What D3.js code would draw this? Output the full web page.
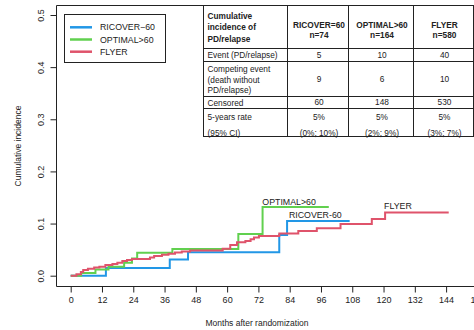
<!DOCTYPE html>
<html>
<head>
<meta charset="utf-8">
<script src="https://cdn.jsdelivr.net/npm/d3@7"></script>
<style>
  body { margin: 0; background: #fff; }
  svg { display: block; font-family: "Liberation Sans", Arial, sans-serif; }
</style>
</head>
<body>
<svg id="chart" width="474" height="330"></svg>
<script>
// step curves: month of each change, and the value after it
var ricoverMonths = [0, 13.5, 38, 45, 80, 83, 107];
var ricoverValues = [0, 0.015, 0.031, 0.045, 0.078, 0.105, 0.105];

var optimalMonths = [0, 4, 9.5, 14.5, 20.5, 23.5, 25.5, 39, 64.3, 73.6, 99];
var optimalValues = [0, 0.005, 0.012, 0.017, 0.025, 0.033, 0.044, 0.051, 0.080, 0.132, 0.132];

var flyerMonths = [0, 2.2, 3.9, 4.8, 6.6, 9, 11, 13.3, 16, 17.9, 19.8, 21.6, 23.5, 30.4, 32, 35, 37.5, 40, 42.6, 45.8, 58.3, 61.2, 63.8, 67, 69, 70.3, 72.2, 80, 87.3, 94.4, 103.5, 115.5, 120.6, 145];
var flyerValues = [0, 0.003, 0.007, 0.011, 0.0135, 0.0155, 0.017, 0.0205, 0.0225, 0.025, 0.028, 0.030, 0.032, 0.035, 0.038, 0.040, 0.042, 0.0445, 0.0465, 0.0485, 0.0515, 0.059, 0.064, 0.0665, 0.070, 0.0735, 0.076, 0.081, 0.0857, 0.091, 0.099, 0.1087, 0.121, 0.121];

var seriesNames = ["RICOVER\u221260", "OPTIMAL>60", "FLYER"];
var seriesColors = ["#2297E6", "#61D04F", "#DF536B"];

var xTicks = d3.range(0, 157, 12);
var yTicks = [0, 0.1, 0.2, 0.3, 0.4, 0.5];

// table contents
var tableHeader = [["Cumulative", "incidence of", "PD/relapse"], ["RICOVER=60", "n=74"], ["OPTIMAL>60", "n=164"], ["FLYER", "n=580"]];
var tableRowLabels = [["Event (PD/relapse)"], ["Competing event", "(death without", "PD/relapse)"], ["Censored"], ["5-years rate", "(95% CI)"]];
var tableCells = [
  [["5"], ["10"], ["40"]],
  [["9"], ["6"], ["10"]],
  [["60"], ["148"], ["530"]],
  [["5%", "(0%; 10%)"], ["5%", "(2%; 9%)"], ["5%", "(3%; 7%)"]]
];

var svg = d3.select("#chart");
var ink = "#222";
var font = "Liberation Sans, Arial, sans-serif";

var x = d3.scaleLinear().domain([0, 156]).range([70.7, 70.7 + 156 * 2.607]);
var y = d3.scaleLinear().domain([0, 0.5]).range([275.7, 15]);

var boxLeft = 56, boxTop = 5, boxBottom = 286;

// plot box (runs past the right edge of the picture)
svg.append("path")
  .attr("d", "M480," + (boxTop + 0.5) + "H" + (boxLeft + 0.5) + "V" + (boxBottom + 0.5) + "H480")
  .attr("fill", "none").attr("stroke", ink).attr("stroke-width", 1);

// x axis
var xAxis = svg.append("g")
  .attr("transform", "translate(0," + (boxBottom + 0.5) + ")")
  .call(d3.axisBottom(x).tickValues(xTicks).tickSize(6).tickPadding(4).tickFormat(d3.format("d")));
xAxis.select(".domain").remove();
xAxis.selectAll("line").attr("stroke", ink);
xAxis.selectAll("text").attr("fill", ink).style("font-size", "9px").style("font-family", font);

// y axis, labels turned like R's default
var yAxis = svg.append("g")
  .attr("transform", "translate(" + (boxLeft + 0.5) + ",0)")
  .call(d3.axisLeft(y).tickValues(yTicks).tickSize(6).tickFormat(d3.format(".1f")));
yAxis.select(".domain").remove();
yAxis.selectAll("line").attr("stroke", ink);
yAxis.selectAll("text")
  .attr("fill", ink)
  .attr("x", 0).attr("dy", null)
  .attr("text-anchor", "middle")
  .attr("transform", "translate(-15,0) rotate(-90)")
  .attr("dominant-baseline", "middle")
  .style("font-size", "9px").style("font-family", font);

// axis titles
svg.append("text")
  .attr("x", 257).attr("y", 326)
  .attr("text-anchor", "middle").attr("fill", ink)
  .style("font-size", "8.5px")
  .text("Months after randomization");
svg.append("text")
  .attr("transform", "translate(21,146) rotate(-90)")
  .attr("text-anchor", "middle").attr("fill", ink)
  .style("font-size", "8.5px")
  .text("Cumulative incidence");

// curves
var line = d3.line()
  .x(function(d) { return x(d[0]); })
  .y(function(d) { return y(d[1]); })
  .curve(d3.curveStepAfter);

var curves = [
  d3.zip(ricoverMonths, ricoverValues),
  d3.zip(optimalMonths, optimalValues),
  d3.zip(flyerMonths, flyerValues)
];
curves.forEach(function(c, i) {
  svg.append("path")
    .datum(c)
    .attr("d", line)
    .attr("fill", "none")
    .attr("stroke", seriesColors[i])
    .attr("stroke-width", 2);
});

// curve labels
var curveLabels = [
  {text: "RICOVER-60", m: 83.7, v: 0.1106},
  {text: "OPTIMAL>60", m: 73.5, v: 0.1356},
  {text: "FLYER", m: 120.2, v: 0.128}
];
svg.selectAll(".clabel")
  .data(curveLabels)
  .enter().append("text")
  .attr("class", "clabel")
  .attr("x", function(d) { return x(d.m); })
  .attr("y", function(d) { return y(d.v); })
  .attr("fill", ink)
  .style("font-size", "8.8px")
  .text(function(d) { return d.text; });

// legend
var legend = svg.append("g");
legend.append("rect")
  .attr("x", 64.5).attr("y", 14.5).attr("width", 101).attr("height", 48)
  .attr("fill", "#fff").attr("stroke", ink).attr("stroke-width", 1);
seriesNames.forEach(function(name, i) {
  var ly = 27.3 + i * 12.2;
  legend.append("line")
    .attr("x1", 70).attr("x2", 92).attr("y1", ly).attr("y2", ly)
    .attr("stroke", seriesColors[i]).attr("stroke-width", 2.5);
  legend.append("text")
    .attr("x", 100).attr("y", ly).attr("dy", "0.35em")
    .attr("fill", ink).style("font-size", "8.8px")
    .text(name);
});

// table in the top right
var colX = [203.5, 287.5, 348.5, 413.5, 473.5];
var rowY = [5.5, 48.5, 61.5, 96.5, 108.5, 136.5];
var table = svg.append("g");
table.append("rect")
  .attr("x", colX[0]).attr("y", rowY[0])
  .attr("width", colX[4] - colX[0]).attr("height", rowY[5] - rowY[0])
  .attr("fill", "#fff").attr("stroke", ink).attr("stroke-width", 1);
rowY.slice(1, 5).forEach(function(ry) {
  table.append("line").attr("x1", colX[0]).attr("x2", colX[4]).attr("y1", ry).attr("y2", ry)
    .attr("stroke", ink).attr("stroke-width", 1);
});
colX.slice(1, 4).forEach(function(cx) {
  table.append("line").attr("x1", cx).attr("x2", cx).attr("y1", rowY[0]).attr("y2", rowY[5])
    .attr("stroke", ink).attr("stroke-width", 1);
});

function cellText(lines, col, centers, bold) {
  var left = col === 0;
  lines.forEach(function(t, k) {
    table.append("text")
      .attr("x", left ? colX[0] + 4 : (colX[col] + colX[col + 1]) / 2 + 1)
      .attr("y", centers[k]).attr("dy", "0.35em")
      .attr("text-anchor", left ? "start" : "middle")
      .attr("fill", ink)
      .style("font-size", "8.3px")
      .style("font-weight", bold ? "bold" : "normal")
      .text(t);
  });
}

cellText(tableHeader[0], 0, [15.7, 27.5, 39], true);
for (var c = 1; c < 4; c++) cellText(tableHeader[c], c, [25.3, 35.3], true);

var rowCenters = [[55.5], [69.5, 80, 90.5], [103], [117.5, 133.5]];
tableRowLabels.forEach(function(lbl, r) {
  cellText(lbl, 0, rowCenters[r], false);
  tableCells[r].forEach(function(cell, c) {
    // single values sit in the middle of their row
    var centers = cell.length === 1 ? [(rowY[r + 1] + rowY[r + 2]) / 2] : rowCenters[r];
    cellText(cell, c + 1, centers, false);
  });
});
</script>
</body>
</html>
